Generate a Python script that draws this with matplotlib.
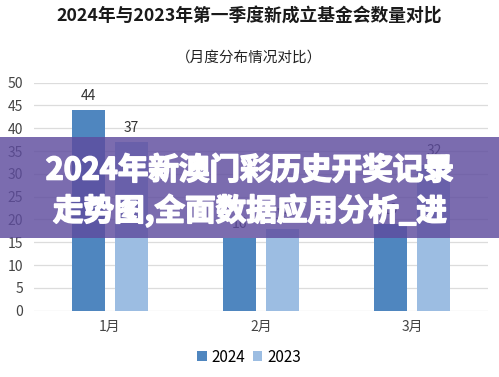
import matplotlib

matplotlib.use("Agg")
import matplotlib.pyplot as plt
import matplotlib.patheffects as pe
import numpy as np
from matplotlib.patches import Rectangle

plt.rcParams["font.family"] = ["Noto Sans CJK SC", "DejaVu Sans"]

# data
months = ["1月", "2月", "3月"]
counts_2024 = [44, 16, 19]
counts_2023 = [37, 18, 32]
yticks = list(range(0, 55, 5))

TITLE = "2024年与2023年第一季度新成立基金会数量对比"
SUBTITLE = "（月度分布情况对比）"
BANNER = "2024年新澳门彩历史开奖记录\n走势图,全面数据应用分析_进"

C24 = "#4f86bf"
C23 = "#9cbde2"

W, H = 499, 377
fig = plt.figure(figsize=(W / 100, H / 100), dpi=100)
fig.patch.set_facecolor("white")

# axes box in pixel terms of the reference
ax = fig.add_axes([34 / W, (H - 310.7) / H, 454 / W, (310.7 - 82.7) / H])
x = np.arange(len(months))
bw = 0.22
b1 = ax.bar(x - 0.142, counts_2024, bw, color=C24, label="2024", zorder=2)
b2 = ax.bar(x + 0.142, counts_2023, bw, color=C23, label="2023", zorder=2)
for bars in (b1, b2):
    ax.bar_label(bars, padding=5, fontsize=10, color="#333333")

ax.set_xlim(-0.5, 2.5)
ax.set_ylim(0, 50)
ax.set_yticks(yticks)
ax.set_xticks(x)
ax.set_xticklabels(months, fontsize=10, color="#333333")
ax.tick_params(axis="both", length=0, labelsize=10, colors="#444444")
ax.tick_params(axis="y", pad=8)
ax.tick_params(axis="x", pad=7)
ax.grid(axis="y", color="#dcdcdc", lw=0.9, zorder=0)
for s in ax.spines.values():
    s.set_visible(False)

fig.text(0.5, 1 - 17 / H, TITLE, ha="center", va="center",
         fontsize=12.8, fontweight="bold", color="#1a1a1a")
fig.text(0.5, 1 - 58 / H, SUBTITLE, ha="center", va="center",
         fontsize=10.5, color="#222222")

fig.legend(handles=[b1, b2], loc="center", bbox_to_anchor=(0.5, 1 - 357 / H),
           ncol=2, frameon=False, fontsize=11, handlelength=0.6,
           handleheight=0.6, handletextpad=0.35, columnspacing=0.5)

# purple overlay banner across the middle
fig.patches.append(Rectangle((0, (H - 238.3) / H), 1, (238.3 - 136.7) / H,
                             transform=fig.transFigure, facecolor="#5e4c9e",
                             alpha=0.82, zorder=5))
fig.text(0.5, (H - 191) / H, BANNER, ha="center", va="center",
         fontsize=22, fontweight="heavy", color="white", zorder=6,
         linespacing=1.3,
         path_effects=[pe.withStroke(linewidth=1.2, foreground="white")])

fig.savefig("out.png", dpi=100)
